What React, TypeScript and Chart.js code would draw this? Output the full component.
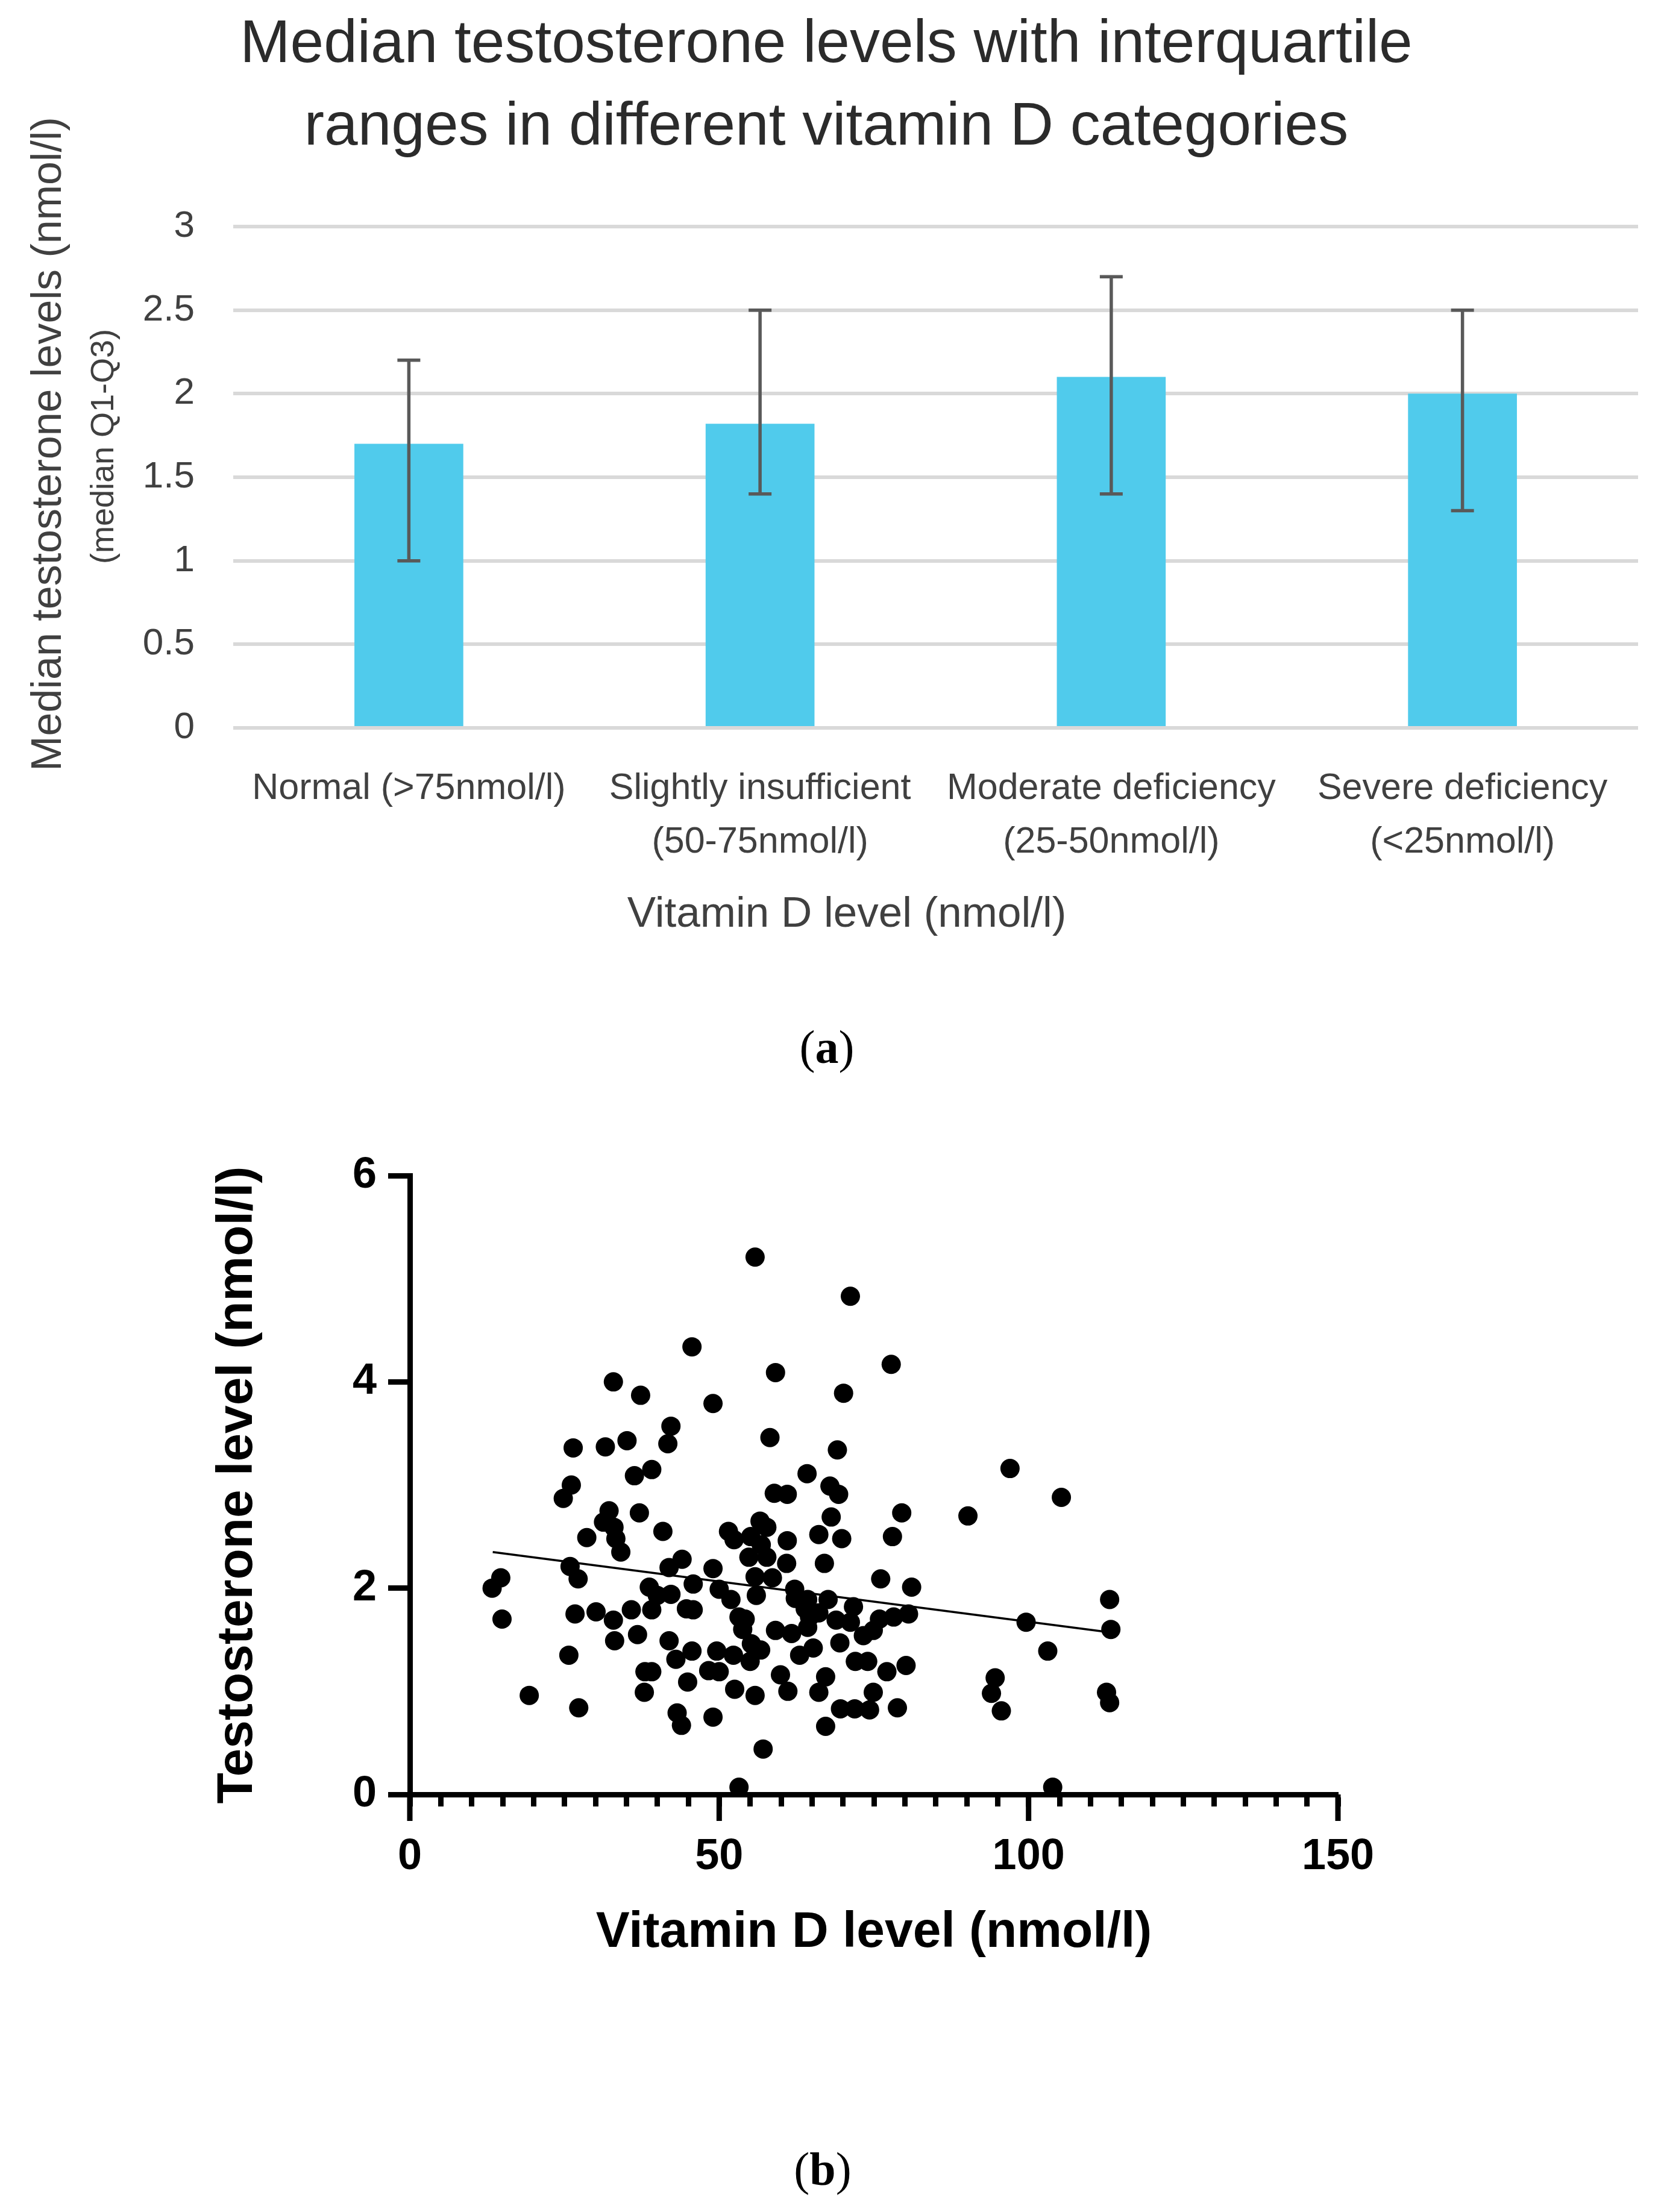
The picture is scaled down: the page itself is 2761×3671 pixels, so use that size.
import React, { useEffect, useRef } from 'react';
import { Chart, registerables } from 'chart.js';

Chart.register(...registerables);

// ---- panel (a): medians with interquartile ranges ----
const barTitle = ['Median testosterone levels with interquartile', 'ranges in different vitamin D categories'];
const barYTitle = 'Median testosterone levels (nmol/l)';
const barYSubTitle = '(median Q1-Q3)';
const barXTitle = 'Vitamin D level (nmol/l)';
const categoryLabels = [
  ['Normal (>75nmol/l)'],
  ['Slightly insufficient', '(50-75nmol/l)'],
  ['Moderate deficiency', '(25-50nmol/l)'],
  ['Severe deficiency', '(<25nmol/l)'],
];
const medianValues = [1.7, 1.82, 2.1, 2.0];
const q1Values = [1.0, 1.4, 1.4, 1.3];
const q3Values = [2.2, 2.5, 2.7, 2.5];
const barYTicks = [0, 0.5, 1, 1.5, 2, 2.5, 3];

// ---- panel (b): scatter of testosterone vs vitamin D ----
const vitaminD = [
  55.8, 71.2, 45.6, 59.1, 32.9, 37.3, 26.4, 31.6, 35.1, 39.1,
  36.3, 26.1, 24.8, 32.2, 31.3, 37.1, 33.0, 33.3, 34.1, 28.6,
  14.7, 13.3, 14.9, 25.9, 27.2, 26.7, 30.1, 32.9, 33.1, 35.8,
  36.8, 25.7, 19.3, 27.3, 38.7, 39.1, 38.0, 39.1, 37.9, 40.0,
  55.0, 48.3, 50.0, 43.0, 44.9, 43.2, 43.9, 49.0, 52.5, 55.8,
  57.1, 53.2, 59.9, 61.1, 72.0, 74.0, 67.2, 66.1, 67.2, 69.6,
  71.9, 74.3, 74.9, 55.2, 56.7, 52.3, 49.6, 45.6, 63.0, 65.2,
  53.8, 63.9, 64.3, 66.1,
  49.0, 42.2, 41.7, 70.1, 58.2, 69.1, 64.2, 58.9, 61.0, 67.9,
  69.3, 68.1, 79.5, 40.9, 51.5, 52.4, 56.6, 57.7, 55.1, 56.8,
  54.8, 57.7, 61.0, 60.9, 66.1, 69.8, 67.0, 78.0, 44.0, 41.9,
  49.0, 55.8, 58.6, 45.8, 50.0, 42.2, 56.0, 62.2, 62.3, 51.9,
  64.3, 67.6, 71.7, 44.7, 45.8, 53.2, 54.2, 64.6, 68.9, 71.2,
  75.9, 78.2, 76.1, 59.1, 61.7, 73.3, 41.9, 69.5,
  77.8, 81.1, 80.6, 74.9, 77.1, 80.2, 78.8, 90.2, 97.0, 105.3,
  99.6, 103.1, 94.6, 94.0, 95.6, 103.9, 113.1, 113.3, 112.6, 113.1,
];
const testosterone = [
  5.21, 4.83, 4.34, 4.09, 4.0, 3.87, 3.36, 3.37, 3.43, 3.15,
  3.09, 3.0, 2.87, 2.75, 2.64, 2.73, 2.59, 2.48, 2.35, 2.49,
  2.1, 2.0, 1.7, 2.21, 2.09, 1.75, 1.77, 1.69, 1.49, 1.79,
  1.55, 1.35, 0.96, 0.84, 2.01, 1.79, 1.19, 1.19, 0.99, 1.93,
  1.29, 1.2, 1.19, 1.31, 1.09, 0.79, 0.67, 0.75, 1.02, 0.96,
  0.44, 0.07, 1.16, 1.0, 1.29, 1.29, 1.14, 0.99, 0.66, 0.83,
  0.83, 0.82, 0.99, 1.46, 1.4, 1.35, 1.39, 1.39, 1.35, 1.42,
  1.6, 1.8, 1.62, 1.76,
  3.79, 3.57, 3.4, 3.89, 3.46, 3.34, 3.11, 2.92, 2.91, 2.99,
  2.91, 2.69, 2.73, 2.55, 2.55, 2.47, 2.65, 2.59, 2.5, 2.42,
  2.3, 2.3, 2.46, 2.24, 2.52, 2.48, 2.24, 2.5, 2.28, 2.2,
  2.19, 2.11, 2.1, 2.04, 1.99, 1.94, 1.93, 1.99, 1.9, 1.89,
  1.89, 1.89, 1.82, 1.8, 1.79, 1.72, 1.7, 1.72, 1.69, 1.67,
  1.7, 1.72, 2.09, 1.59, 1.56, 1.54, 1.49, 1.47,
  4.17, 2.01, 1.75, 1.59, 1.19, 1.25, 0.84, 2.7, 3.16, 2.88,
  1.67, 1.39, 1.13, 0.98, 0.81, 0.07, 1.89, 1.6, 0.99, 0.89,
];
const trendX = [13.4, 112.0];
const trendY = [2.35, 1.58];
const scatterYTicks = [0, 2, 4, 6];
const scatterXMajorTicks = [0, 50, 100, 150];
const scatterXMinorStep = 5;
const scatterXTitle = 'Vitamin D level (nmol/l)';
const scatterYTitle = 'Testosterone level (nmol/l)';

const SANS = "'Liberation Sans', Arial, sans-serif";
const SERIF = "'Liberation Serif', 'Times New Roman', serif";

// error bars (Q1..Q3) on top of each bar
const errorBarPlugin = {
  id: 'errorBars',
  afterDatasetsDraw(chart: Chart) {
    const meta = chart.getDatasetMeta(0);
    const y = chart.scales.y;
    const ctx = chart.ctx;
    ctx.save();
    ctx.strokeStyle = '#595959';
    ctx.lineWidth = 5.5;
    meta.data.forEach((bar: any, i: number) => {
      const top = y.getPixelForValue(q3Values[i]);
      const bottom = y.getPixelForValue(q1Values[i]);
      ctx.beginPath();
      ctx.moveTo(bar.x, top);
      ctx.lineTo(bar.x, bottom);
      ctx.moveTo(bar.x - 19, top);
      ctx.lineTo(bar.x + 19, top);
      ctx.moveTo(bar.x - 19, bottom);
      ctx.lineTo(bar.x + 19, bottom);
      ctx.stroke();
    });
    ctx.restore();
  },
};

// axis titles of panel (a) are not centred on the plot, so they are drawn here
const barAxisTitlePlugin = {
  id: 'barAxisTitles',
  afterDraw(chart: Chart) {
    const ctx = chart.ctx;
    ctx.save();
    ctx.fillStyle = '#404040';
    ctx.textAlign = 'center';
    ctx.textBaseline = 'middle';

    ctx.save();
    ctx.translate(82, 737);
    ctx.rotate(-Math.PI / 2);
    ctx.font = `70px ${SANS}`;
    ctx.fillText(barYTitle, 0, 0);
    ctx.restore();

    ctx.save();
    ctx.translate(173, 741);
    ctx.rotate(-Math.PI / 2);
    ctx.font = `54px ${SANS}`;
    ctx.fillText(barYSubTitle, 0, 0);
    ctx.restore();

    ctx.font = `71px ${SANS}`;
    ctx.fillText(barXTitle, 1405, 1518);
    ctx.restore();
  },
};

// longer tick marks at the labelled x values of panel (b)
const majorTickPlugin = {
  id: 'majorTicks',
  afterDraw(chart: Chart) {
    const x = chart.scales.x;
    const ctx = chart.ctx;
    const base = chart.chartArea.bottom;
    ctx.save();
    ctx.strokeStyle = '#000';
    ctx.lineWidth = 9;
    scatterXMajorTicks.forEach((v) => {
      const px = x.getPixelForValue(v);
      ctx.beginPath();
      ctx.moveTo(px, base);
      ctx.lineTo(px, base + 44);
      ctx.stroke();
    });
    ctx.restore();
  },
};

const BarPanel: React.FC = () => {
  const canvasRef = useRef<HTMLCanvasElement>(null);

  useEffect(() => {
    if (!canvasRef.current) return;
    const chart = new Chart(canvasRef.current, {
      type: 'bar',
      data: {
        labels: categoryLabels,
        datasets: [
          {
            data: medianValues,
            backgroundColor: '#50CBEC',
            barPercentage: 0.31,
            categoryPercentage: 1,
          },
        ],
      },
      options: {
        animation: false,
        responsive: true,
        maintainAspectRatio: false,
        layout: { padding: { left: 24, right: 43, top: 0, bottom: 0 } },
        plugins: {
          legend: { display: false },
          tooltip: { enabled: false },
          title: {
            display: true,
            text: barTitle,
            color: '#2b2b2b',
            font: { family: SANS, size: 100, weight: 'normal', lineHeight: 1.37 },
            padding: { top: 6.5, bottom: 95.5 },
          },
        },
        scales: {
          x: {
            grid: { display: false },
            border: { display: false },
            ticks: {
              autoSkip: false,
              maxRotation: 0,
              minRotation: 0,
              padding: 48.5,
              color: '#404040',
              font: { family: SANS, size: 61, lineHeight: 1.46 },
            },
            afterFit: (scale: any) => {
              scale.height = 432;
            },
          },
          y: {
            min: 0,
            max: 3,
            afterBuildTicks: (scale: any) => {
              scale.ticks = barYTicks.map((v) => ({ value: v }));
            },
            grid: { color: '#D9D9D9', lineWidth: 6, drawTicks: false },
            border: { display: false },
            ticks: {
              padding: 64,
              color: '#404040',
              font: { family: SANS, size: 62 },
              callback: (v: any) => String(Number(v)),
            },
            afterFit: (scale: any) => {
              scale.width = 363;
            },
          },
        },
      },
      plugins: [errorBarPlugin, barAxisTitlePlugin],
    });
    return () => chart.destroy();
  }, []);

  return (
    <div style={{ position: 'absolute', left: 0, top: 0, width: 2761, height: 1640 }}>
      <canvas ref={canvasRef}></canvas>
    </div>
  );
};

const ScatterPanel: React.FC = () => {
  const canvasRef = useRef<HTMLCanvasElement>(null);

  useEffect(() => {
    if (!canvasRef.current) return;
    const points = vitaminD.map((v, i) => ({ x: v, y: testosterone[i] }));
    const trend = trendX.map((v, i) => ({ x: v, y: trendY[i] }));
    const xTicks: number[] = [];
    for (let v = 0; v <= 150; v += scatterXMinorStep) xTicks.push(v);

    const chart = new Chart(canvasRef.current, {
      type: 'scatter',
      data: {
        datasets: [
          {
            type: 'line',
            data: trend,
            borderColor: '#000',
            borderWidth: 3.5,
            pointRadius: 0,
            showLine: true,
            fill: false,
            clip: false,
            order: 0,
          } as any,
          {
            type: 'scatter',
            data: points,
            backgroundColor: '#000',
            borderWidth: 0,
            pointRadius: 16,
            pointHoverRadius: 16,
            clip: false,
            order: 1,
          },
        ],
      },
      options: {
        animation: false,
        responsive: true,
        maintainAspectRatio: false,
        layout: { padding: { left: 0, right: 541, top: 151, bottom: 191.6 } },
        plugins: {
          legend: { display: false },
          tooltip: { enabled: false },
        },
        scales: {
          x: {
            type: 'linear',
            min: 0,
            max: 150,
            afterBuildTicks: (scale: any) => {
              scale.ticks = xTicks.map((v) => ({ value: v }));
            },
            grid: { drawOnChartArea: false, drawTicks: true, tickLength: 20, tickWidth: 9, tickColor: '#000' },
            border: { display: true, width: 9, color: '#000' },
            ticks: {
              autoSkip: false,
              maxRotation: 0,
              minRotation: 0,
              padding: 40.8,
              color: '#000',
              font: { family: SANS, size: 72, weight: 'bold' },
              callback: (v: any) => (scatterXMajorTicks.includes(Number(v)) ? String(v) : ''),
            },
            title: {
              display: true,
              text: scatterXTitle,
              color: '#000',
              font: { family: SANS, size: 84, weight: 'bold', lineHeight: 1.2 },
              padding: { top: 0, bottom: 0 },
            },
            afterFit: (scale: any) => {
              scale.height = 280.4;
            },
          },
          y: {
            type: 'linear',
            min: 0,
            max: 6,
            afterBuildTicks: (scale: any) => {
              scale.ticks = scatterYTicks.map((v) => ({ value: v }));
            },
            grid: { drawOnChartArea: false, drawTicks: true, tickLength: 36, tickWidth: 9, tickColor: '#000' },
            border: { display: true, width: 9, color: '#000' },
            ticks: {
              padding: 19,
              color: '#000',
              font: { family: SANS, size: 72, weight: 'bold' },
            },
            title: {
              display: true,
              text: scatterYTitle,
              color: '#000',
              font: { family: SANS, size: 84, weight: 'bold', lineHeight: 1.2 },
              padding: { top: 344.6, bottom: 0 },
            },
            afterFit: (scale: any) => {
              scale.width = 680;
            },
          },
        },
      },
      plugins: [majorTickPlugin],
    });
    return () => chart.destroy();
  }, []);

  return (
    <div style={{ position: 'absolute', left: 0, top: 1800, width: 2761, height: 1650 }}>
      <canvas ref={canvasRef}></canvas>
    </div>
  );
};

const Caption: React.FC<{ letter: string; cx: number; cy: number }> = ({ letter, cx, cy }) => (
  <div
    style={{
      position: 'absolute',
      left: cx - 200,
      top: cy - 45,
      width: 400,
      height: 90,
      lineHeight: '90px',
      textAlign: 'center',
      fontFamily: SERIF,
      fontSize: 78,
      color: '#000',
    }}
  >
    (<b>{letter}</b>)
  </div>
);

export default function App() {
  return (
    <div
      style={{
        position: 'absolute',
        left: 0,
        top: 0,
        width: 2761,
        height: 3671,
        background: '#fff',
        overflow: 'hidden',
      }}
    >
      <BarPanel />
      <Caption letter="a" cx={1372} cy={1738} />
      <ScatterPanel />
      <Caption letter="b" cx={1365} cy={3600} />
    </div>
  );
}
